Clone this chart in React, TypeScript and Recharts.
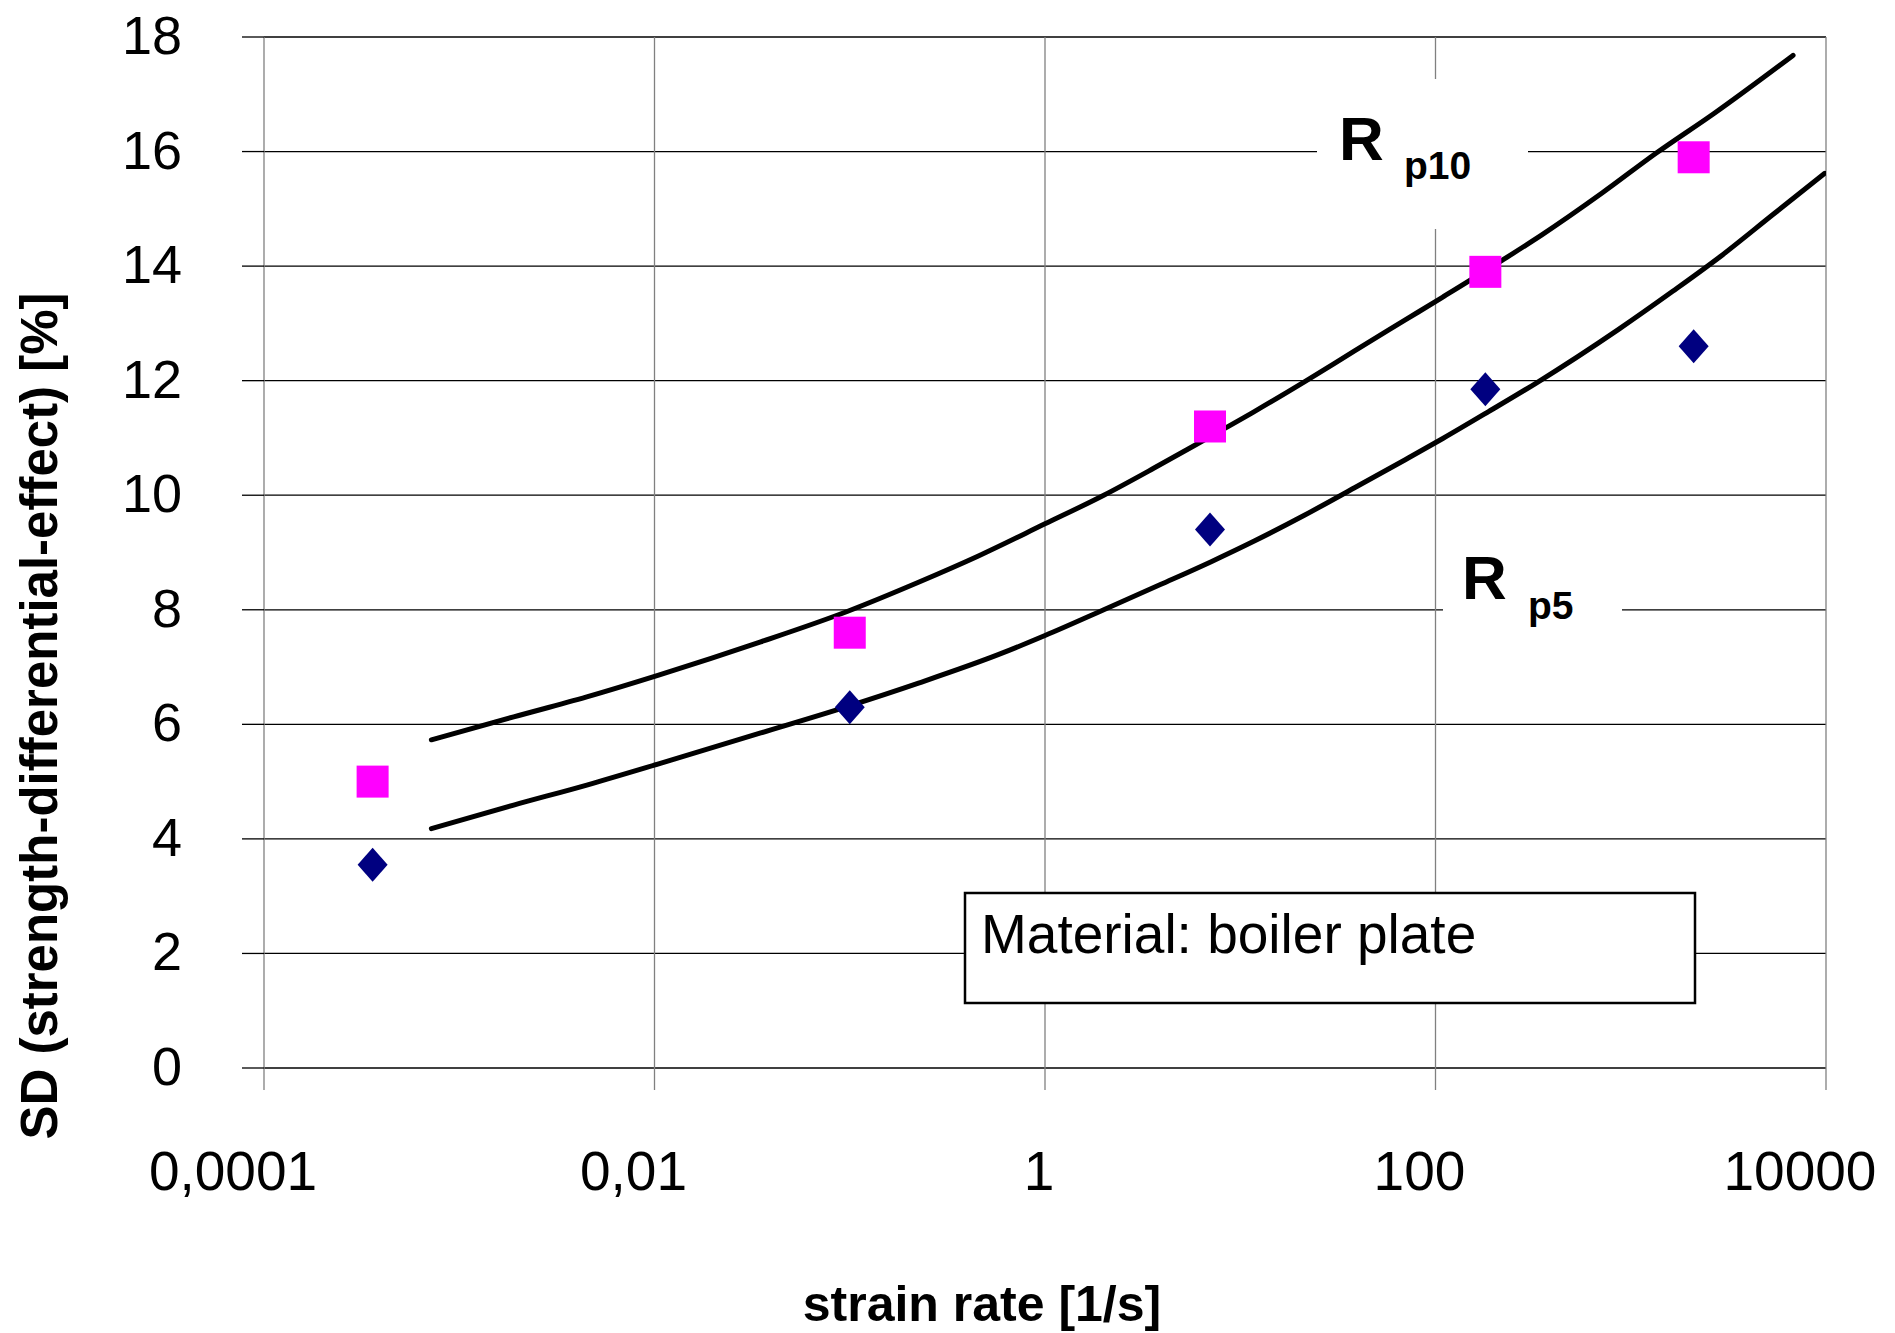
import { ComposedChart, Line, Scatter, XAxis, YAxis, CartesianGrid } from 'recharts'

const FONT = '"Liberation Sans", Arial, Helvetica, sans-serif'

// measured points
const strainRates = [0.00036, 0.1, 7, 180, 2100]
const sdRp10 = [5.0, 7.6, 11.2, 13.9, 15.9]
const sdRp5 = [3.55, 6.3, 9.4, 11.85, 12.6]

// fitted curves
const curveRp10X = [
  0.00072, 0.0019, 0.0045, 0.0105, 0.035, 0.097, 0.225, 0.45, 1, 2, 3.6, 6.5, 11.8, 21.3, 38.5,
  70, 109, 219, 352, 716, 1346, 2680, 6780,
]
const curveRp10Y = [
  5.73, 6.13, 6.48, 6.86, 7.44, 7.97, 8.48, 8.93, 9.5, 10.0, 10.47, 10.96, 11.46, 11.98, 12.52,
  13.06, 13.46, 14.1, 14.55, 15.28, 15.97, 16.67, 17.68,
]
const curveRp5X = [
  0.00072, 0.0019, 0.0045, 0.0105, 0.035, 0.097, 0.225, 0.58, 1, 2, 3.9, 7.1, 11.8, 21.3, 38.5,
  70, 109, 187, 325, 870, 1640, 2960, 5350, 9860,
]
const curveRp5Y = [
  4.18, 4.59, 4.94, 5.31, 5.85, 6.31, 6.72, 7.22, 7.55, 8.0, 8.44, 8.84, 9.2, 9.65, 10.13,
  10.62, 10.99, 11.46, 11.95, 12.9, 13.56, 14.2, 14.9, 15.62,
]

const xTicks = [0.0001, 0.01, 1, 100, 10000]
const xTickLabels = ['0,0001', '0,01', '1', '100', '10000']
const yTicks = [0, 2, 4, 6, 8, 10, 12, 14, 16, 18]

const toPoints = (xs: number[], ys: number[]) => xs.map((x, i) => ({ x, y: ys[i] }))

const rp10Points = toPoints(strainRates, sdRp10)
const rp5Points = toPoints(strainRates, sdRp5)
const rp10Curve = toPoints(curveRp10X, curveRp10Y)
const rp5Curve = toPoints(curveRp5X, curveRp5Y)

const SquareMark = (props: any) => {
  const { cx, cy } = props
  return <rect x={cx - 16} y={cy - 16} width={32} height={32} fill="#ff00ff" />
}

const DiamondMark = (props: any) => {
  const { cx, cy } = props
  return (
    <polygon
      points={`${cx},${cy - 17} ${cx + 15},${cy} ${cx},${cy + 17} ${cx - 15},${cy}`}
      fill="#000080"
    />
  )
}

const XTick = (props: any) => {
  const { x, y, payload } = props
  const idx = xTicks.indexOf(payload.value)
  const label = idx >= 0 ? xTickLabels[idx] : String(payload.value)
  // labels sit a little left of their tick, as in the original
  return (
    <text
      x={x - 5 * label.length - 1}
      y={y}
      dy={78}
      textAnchor="middle"
      fontSize={55}
      fontFamily={FONT}
      fill="#000"
    >
      {label}
    </text>
  )
}

const YTick = (props: any) => {
  const { x, y, payload } = props
  return (
    <text x={x} y={y} dy={17} textAnchor="end" fontSize={54} fontFamily={FONT} fill="#000">
      {payload.value}
    </text>
  )
}

export default function App() {
  return (
    <div style={{ position: 'absolute', left: 0, top: 0, width: 1895, height: 1333, background: '#fff' }}>
      <ComposedChart
        width={1895}
        height={1333}
        margin={{ top: 37, right: 69, bottom: 0, left: 0 }}
      >
        <CartesianGrid vertical={false} stroke="#000" strokeWidth={1.3} />
        <CartesianGrid horizontal={false} stroke="#808080" strokeWidth={1.3} />
        <XAxis
          dataKey="x"
          type="number"
          scale="log"
          domain={[0.0001, 10000]}
          ticks={xTicks}
          allowDataOverflow
          height={265}
          axisLine={false}
          tickLine={{ stroke: '#808080', strokeWidth: 1.3 }}
          tickSize={22}
          tickMargin={22}
          tick={<XTick />}
          interval={0}
        />
        <YAxis
          dataKey="y"
          type="number"
          domain={[0, 18]}
          ticks={yTicks}
          width={264}
          axisLine={false}
          tickLine={{ stroke: '#000', strokeWidth: 1.3 }}
          tickSize={22}
          tickMargin={60}
          tick={<YTick />}
          interval={0}
        />
        <Scatter data={rp10Points} shape={<SquareMark />} isAnimationActive={false} />
        <Scatter data={rp5Points} shape={<DiamondMark />} isAnimationActive={false} />
        <Line
          data={rp10Curve}
          dataKey="y"
          type="monotone"
          stroke="#000"
          strokeWidth={5}
          strokeLinecap="round"
          dot={false}
          isAnimationActive={false}
        />
        <Line
          data={rp5Curve}
          dataKey="y"
          type="monotone"
          stroke="#000"
          strokeWidth={5}
          strokeLinecap="round"
          dot={false}
          isAnimationActive={false}
        />
      </ComposedChart>

      {/* annotations */}
      <svg
        width={1895}
        height={1333}
        style={{ position: 'absolute', left: 0, top: 0, pointerEvents: 'none' }}
        fontFamily={FONT}
      >
        <rect x={1317} y={79} width={211} height={150} fill="#fff" />
        <text x={1339} y={160} fontSize={62} fontWeight="bold">R</text>
        <text x={1404} y={179} fontSize={39} fontWeight="bold">p10</text>

        <rect x={1443} y={540} width={179} height={110} fill="#fff" />
        <text x={1462} y={599} fontSize={62} fontWeight="bold">R</text>
        <text x={1528} y={619} fontSize={39} fontWeight="bold">p5</text>

        <rect x={965} y={893} width={730} height={110} fill="#fff" stroke="#000" strokeWidth={2.5} />
        <text x={981} y={953} fontSize={55}>Material: boiler plate</text>

        <text x={982} y={1321} fontSize={50} fontWeight="bold" textAnchor="middle">
          strain rate [1/s]
        </text>
        <text
          x={0}
          y={0}
          fontSize={51}
          fontWeight="bold"
          textAnchor="middle"
          transform="translate(57 716) rotate(-90)"
        >
          SD (strength-differential-effect) [%]
        </text>
      </svg>
    </div>
  )
}
